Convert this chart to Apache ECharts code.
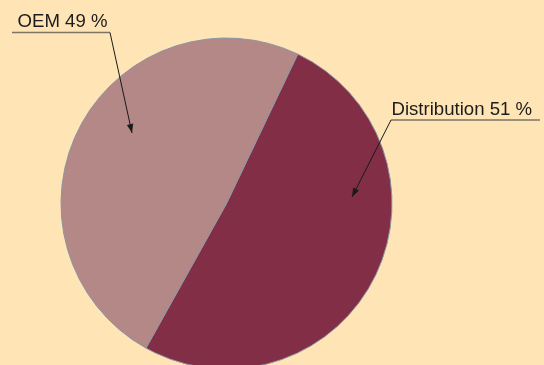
<!DOCTYPE html>
<html>
<head>
<meta charset="utf-8">
<script src="https://cdn.jsdelivr.net/npm/echarts@6/dist/echarts.min.js"></script>
<style>
  html, body { margin: 0; padding: 0; background: #FFE4B6; }
  #chart { width: 544px; height: 365px; }
</style>
</head>
<body>
<div id="chart"></div>
<script>
// Market split by channel
const categories = ['Distribution', 'OEM'];
const shares = [51, 49];
const sliceColors = ['#832E47', '#B38887'];

// Callout placement: label anchor (start of the underline), underline length,
// and the point the arrow points at.
const calloutAnchors = [
  { ux: 391, uy: 120, len: 149, side: 'right', tipX: 352, tipY: 197 },
  { ux: 110, uy: 32.5, len: 98, side: 'left', tipX: 132, tipY: 133 }
];

const cx = 226.5, cy = 203.5, radius = 165.5;

const chart = echarts.init(document.getElementById('chart'), null, { renderer: 'canvas' });

function arrowHead(x0, y0, x1, y1, len, half) {
  const dx = x1 - x0, dy = y1 - y0;
  const d = Math.sqrt(dx * dx + dy * dy);
  const ux = dx / d, uy = dy / d;
  const bx = x1 - ux * len, by = y1 - uy * len;
  return [[x1, y1], [bx - uy * half, by + ux * half], [bx + uy * half, by - ux * half]];
}

const graphics = [];
categories.forEach((name, i) => {
  const a = calloutAnchors[i];
  const x0 = a.side === 'right' ? a.ux : a.ux - a.len;
  const x1 = a.side === 'right' ? a.ux + a.len : a.ux;
  // underline under the label
  graphics.push({
    type: 'line', silent: true, z: 100,
    shape: { x1: x0, y1: a.uy, x2: x1, y2: a.uy },
    style: { stroke: '#7d7466', lineWidth: 1.6 }
  });
  // label text
  graphics.push({
    type: 'text', silent: true, z: 100,
    style: {
      text: name + ' ' + shares[i] + ' %',
      x: a.side === 'right' ? x0 + 0.5 : x1 - 2.5,
      y: a.uy - 10.5,
      textAlign: a.side === 'right' ? 'left' : 'right',
      textVerticalAlign: 'middle',
      font: '18.6px "Liberation Sans", Arial, sans-serif',
      fill: '#1c1c1c'
    }
  });
  // leader line to the slice, ending in an arrowhead
  graphics.push({
    type: 'line', silent: true, z: 100,
    shape: { x1: a.ux, y1: a.uy, x2: a.tipX, y2: a.tipY },
    style: { stroke: '#1a1a1a', lineWidth: 1 }
  });
  graphics.push({
    type: 'polygon', silent: true, z: 100,
    shape: { points: arrowHead(a.ux, a.uy, a.tipX, a.tipY, 9, 3.2) },
    style: { fill: '#1a1a1a' }
  });
});

chart.setOption({
  backgroundColor: '#FFE4B6',
  animation: false,
  series: [{
    type: 'pie',
    center: [cx, cy],
    radius: radius,
    startAngle: 64.5,
    clockwise: true,
    silent: true,
    z: 1,
    label: { show: false },
    labelLine: { show: false },
    itemStyle: { borderColor: '#8d95a0', borderWidth: 1 },
    data: categories.map((name, i) => ({
      name: name,
      value: shares[i],
      itemStyle: { color: sliceColors[i] }
    }))
  }],
  graphic: graphics
});
</script>
</body>
</html>
